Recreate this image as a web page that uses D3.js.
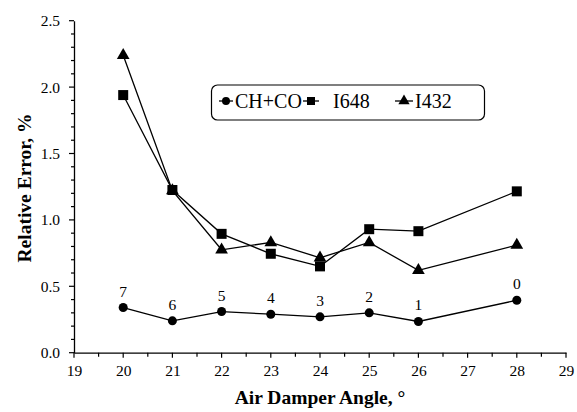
<!DOCTYPE html>
<html>
<head>
<script src="https://d3js.org/d3.v7.min.js"></script>
<style>
  body { margin: 0; background: #fff; }
</style>
</head>
<body>
<script>
// data
var angles = [20, 21, 22, 23, 24, 25, 26, 28];
var chco   = [0.34, 0.24, 0.31, 0.29, 0.27, 0.30, 0.235, 0.395];
var i648   = [1.94, 1.225, 0.895, 0.745, 0.65, 0.93, 0.915, 1.215];
var i432   = [2.24, 1.22, 0.775, 0.83, 0.715, 0.83, 0.62, 0.81];
var pointLabels = ["7", "6", "5", "4", "3", "2", "1", "0"];
var xTicks = [19, 20, 21, 22, 23, 24, 25, 26, 27, 28, 29];
var yTicks = [0, 0.5, 1.0, 1.5, 2.0, 2.5];
var seriesNames = ["CH+CO", "I648", "I432"];

var FONT = "'Liberation Serif', 'Times New Roman', Times, 'DejaVu Serif', serif";
var W = 577, H = 412;
var mLeft = 74, mRight = 566, mTop = 20.7, mBottom = 352.7;

var svg = d3.select("body").append("svg")
    .attr("width", W).attr("height", H)
    .style("font-family", FONT);

var x = d3.scaleLinear().domain([19, 29]).range([mLeft, mRight]);
var y = d3.scaleLinear().domain([0, 2.5]).range([mBottom, mTop]);

// minor ticks
var xMinor = d3.range(19, 29.01, 0.5);
var yMinor = d3.range(0, 2.501, 0.1);

svg.append("g").selectAll("line").data(xMinor).enter().append("line")
    .attr("x1", d => x(d)).attr("x2", d => x(d))
    .attr("y1", mBottom).attr("y2", d => mBottom + (Math.abs(d - Math.round(d)) < 1e-6 ? 5 : 4))
    .attr("stroke", "#000").attr("stroke-width", 1.2);
svg.append("g").selectAll("line").data(yMinor).enter().append("line")
    .attr("y1", d => y(d)).attr("y2", d => y(d))
    .attr("x1", mLeft).attr("x2", d => mLeft - (Math.abs(d * 2 - Math.round(d * 2)) < 1e-6 ? 5 : 3))
    .attr("stroke", "#000").attr("stroke-width", 1.2);

// axes
var xAxis = svg.append("g").attr("transform", "translate(0," + mBottom + ")")
    .call(d3.axisBottom(x).tickValues(xTicks).tickFormat(d3.format("d")).tickSize(0).tickPadding(12));
var yAxis = svg.append("g").attr("transform", "translate(" + mLeft + ",0)")
    .call(d3.axisLeft(y).tickValues(yTicks).tickFormat(d3.format(".1f")).tickSize(0).tickPadding(14));
[xAxis, yAxis].forEach(function (a) {
  a.attr("font-family", null).attr("font-size", null);
  a.select(".domain").attr("stroke", "#000").attr("stroke-width", 1.3);
  a.selectAll("text").attr("font-size", 15.5).attr("fill", "#000")
    .style("font-family", FONT);
});

// titles
svg.append("text").attr("x", 320).attr("y", 404).attr("text-anchor", "middle")
  .style("font-family", FONT)
  .attr("font-size", 19.5).attr("font-weight", "bold").text("Air Damper Angle, \u00b0");
svg.append("text").attr("transform", "translate(31,188) rotate(-90)")
  .style("font-family", FONT)
  .attr("text-anchor", "middle").attr("font-size", 19.5).attr("font-weight", "bold")
  .text("Relative Error, %");

var line = d3.line().x((d, i) => x(angles[i])).y(d => y(d));

function drawSeries(vals, shape, size) {
  svg.append("path").datum(vals).attr("d", line)
    .attr("fill", "none").attr("stroke", "#000").attr("stroke-width", 1.3);
  svg.append("g").selectAll("path").data(vals).enter().append("path")
    .attr("d", d3.symbol().type(shape).size(size))
    .attr("transform", (d, i) => "translate(" + x(angles[i]) + "," + y(d) + ")")
    .attr("fill", "#000");
}
drawSeries(i648, d3.symbolSquare, 100);
drawSeries(i432, d3.symbolTriangle, 70);
drawSeries(chco, d3.symbolCircle, 64);

svg.append("g").selectAll("text").data(chco).enter().append("text")
  .attr("x", (d, i) => x(angles[i])).attr("y", d => y(d) - 11)
  .attr("text-anchor", "middle").attr("font-size", 15.5)
  .style("font-family", FONT)
  .text((d, i) => pointLabels[i]);

// legend
var lg = svg.append("g");
lg.append("rect").attr("x", 211.5).attr("y", 85).attr("width", 273).attr("height", 35)
  .attr("rx", 6).attr("fill", "#fff").attr("stroke", "#000").attr("stroke-width", 1.2);
var legendItems = [
  { name: seriesNames[0], shape: d3.symbolCircle, size: 50, x0: 219, x1: 233, text: 235 },
  { name: seriesNames[1], shape: d3.symbolSquare, size: 64, x0: 303, x1: 319, text: 333 },
  { name: seriesNames[2], shape: d3.symbolTriangle, size: 55, x0: 395, x1: 413, text: 415 }
];
legendItems.forEach(function (it) {
  lg.append("line").attr("x1", it.x0).attr("x2", it.x1).attr("y1", 101).attr("y2", 101)
    .attr("stroke", "#000").attr("stroke-width", 1.3);
  lg.append("path").attr("d", d3.symbol().type(it.shape).size(it.size))
    .attr("transform", "translate(" + ((it.x0 + it.x1) / 2) + ",101)").attr("fill", "#000");
  lg.append("text").attr("x", it.text).attr("y", 107.5).attr("font-size", 20)
    .style("font-family", FONT).text(it.name);
});
</script>
</body>
</html>
